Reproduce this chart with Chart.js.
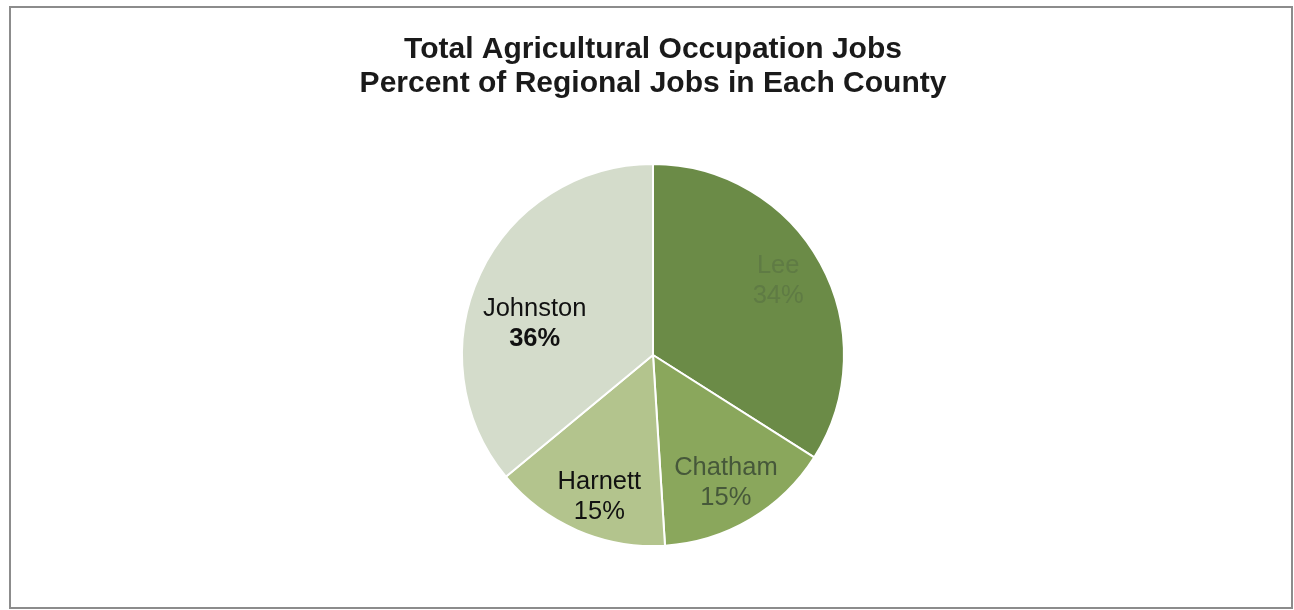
<!DOCTYPE html>
<html>
<head>
<meta charset="utf-8">
<title>Total Agricultural Occupation Jobs</title>
<script src="https://cdn.jsdelivr.net/npm/chart.js@4/dist/chart.umd.min.js"></script>
<style>
  html, body { margin: 0; padding: 0; background: #ffffff; }
  #wrap { position: relative; width: 1294px; height: 610px; }
  canvas { display: block; }
</style>
</head>
<body>
<div id="wrap"><canvas id="chart" width="1294" height="610"></canvas></div>
<script>
// County shares of regional agricultural occupation jobs (percent)
const counties = ['Lee', 'Chatham', 'Harnett', 'Johnston'];
const shares = [34, 15, 15, 36];
const titleLines = ['Total Agricultural Occupation Jobs', 'Percent of Regional Jobs in Each County'];

const sliceColors = ['#6b8b47', '#8aa75c', '#b3c48d', '#d4dccb'];
const labelColors = ['#5f7b44', '#46583a', '#111111', '#111111'];
const pctBold = [false, false, false, true];
// small hand adjustments so each label sits where it reads best in its slice
const labelNudge = [[-2, -4], [-1, 3], [4, 9], [13, 31]];

// thin grey frame around the whole chart
const framePlugin = {
  id: 'frame',
  afterDraw(chart) {
    const ctx = chart.ctx;
    ctx.save();
    ctx.strokeStyle = '#8c8c8c';
    ctx.lineWidth = 2;
    ctx.strokeRect(10, 7, 1282, 601);
    ctx.restore();
  }
};

// name + percentage drawn inside each slice
const sliceLabels = {
  id: 'sliceLabels',
  afterDatasetsDraw(chart) {
    const ctx = chart.ctx;
    const meta = chart.getDatasetMeta(0);
    const total = shares.reduce((a, b) => a + b, 0);
    const face = '25.5px "Liberation Sans", Arial, sans-serif';
    meta.data.forEach((arc, i) => {
      const p = arc.getProps(['x', 'y', 'startAngle', 'endAngle', 'outerRadius'], true);
      const mid = (p.startAngle + p.endAngle) / 2;
      const r = p.outerRadius * 0.76;
      const cx = p.x + Math.cos(mid) * r + labelNudge[i][0];
      const cy = p.y + Math.sin(mid) * r + labelNudge[i][1];
      const pct = Math.round(shares[i] / total * 100) + '%';
      ctx.save();
      ctx.textAlign = 'center';
      ctx.textBaseline = 'middle';
      ctx.fillStyle = labelColors[i];
      ctx.font = face;
      ctx.fillText(counties[i], cx, cy - 15);
      ctx.font = (pctBold[i] ? 'bold ' : '') + face;
      ctx.fillText(pct, cx, cy + 15);
      ctx.restore();
    });
  }
};

new Chart(document.getElementById('chart'), {
  type: 'pie',
  data: {
    labels: counties,
    datasets: [{
      data: shares,
      backgroundColor: sliceColors,
      borderColor: '#ffffff',
      borderWidth: 2
    }]
  },
  options: {
    responsive: false,
    animation: false,
    layout: { padding: { top: 0, bottom: 63, left: 12, right: 0 } },
    plugins: {
      legend: { display: false },
      tooltip: { enabled: false },
      title: {
        display: true,
        text: titleLines,
        color: '#1a1a1a',
        font: { family: '"Liberation Sans", Arial, sans-serif', size: 30, weight: 'bold', lineHeight: 1.134 },
        padding: { top: 32.5, bottom: 62.5 }
      }
    }
  },
  plugins: [framePlugin, sliceLabels]
});
</script>
</body>
</html>
